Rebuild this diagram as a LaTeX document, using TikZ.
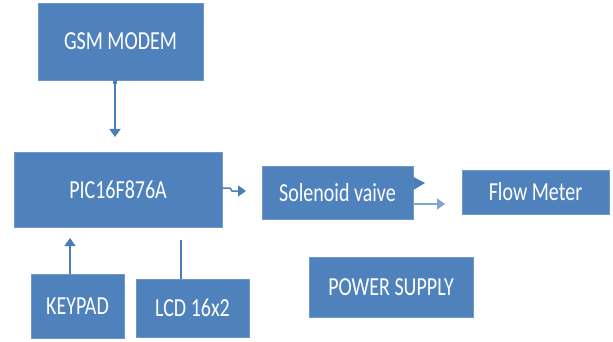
\documentclass[tikz,border=0pt]{standalone}
\usepackage{fontspec}
\setmainfont{Carlito}
\usetikzlibrary{arrows.meta}
\definecolor{boxblue}{HTML}{4F81BD}
\definecolor{edgeblue}{HTML}{6F97CC}
\definecolor{lineblue}{HTML}{4A7EBB}
\tikzset{
  box/.style={fill=boxblue, draw=edgeblue, line width=0.8pt, inner sep=0pt,
    text=white, font=\fontsize{20}{24}\selectfont},
  conn/.style={draw=lineblue, line width=1.5pt,
    -{Triangle[length=8pt,width=11pt]}},
  plain/.style={draw=lineblue, line width=1.2pt}
}
\newcommand{\tall}[1]{\scalebox{1}[1.3]{#1}}
\begin{document}
\begin{tikzpicture}[x=1pt,y=-1pt]
\useasboundingbox (0,0) rectangle (613,342);
\node[box, minimum width=165pt, minimum height=77pt] (gsm) at (120.5,41.5) {\tall{GSM MODEM}};
\node[box, minimum width=208pt, minimum height=75pt] (pic) at (118,189.5) {\tall{PIC16F876A}};
\node[box, minimum width=151pt, minimum height=53pt] (sol) at (337.5,192.5) {\tall{Solenoid vaive}};
\node[box, minimum width=147pt, minimum height=44pt] (flow) at (535.5,192) {\tall{Flow Meter}};
\node[box, minimum width=93pt, minimum height=64pt] (key) at (77.5,306) {\tall{KEYPAD}};
\node[box, minimum width=113pt, minimum height=58pt] (lcd) at (192.5,308) {\tall{LCD 16x2}};
\node[box, minimum width=164pt, minimum height=60pt] (pow) at (391,287) {\tall{POWER SUPPLY}};
% connectors
\coordinate (gsmend) at (115,137);
\draw[conn, {Square[length=4pt,width=4pt]}-{Triangle[length=8pt,width=11pt]}]
  (gsm.south -| gsmend) -- (gsmend);
\coordinate (picend) at (246,191);
\draw[conn] (pic.east |- 0,188) -- (230,188) -- (232,191) -- (picend);
\coordinate (solend) at (445,204);
\draw[conn, draw=lineblue!70] (sol.east |- solend) -- (solend);
\fill[lineblue] (sol.east |- 0,177) -- (425,183) -- (sol.east |- 0,190) -- cycle;
\coordinate (keyend) at (70,238);
\draw[conn] (key.north -| keyend) -- (keyend);
\coordinate (lcdend) at (181,240);
\draw[plain] (lcd.north -| lcdend) -- (lcdend);
\end{tikzpicture}
\end{document}
